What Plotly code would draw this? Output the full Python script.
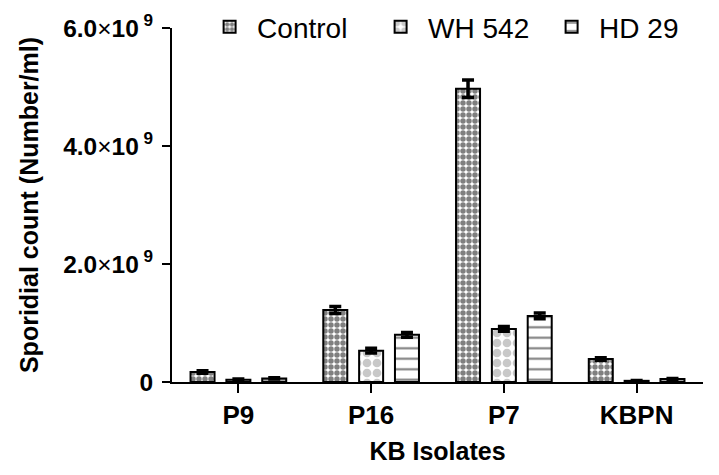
import plotly.graph_objects as go

isolates = ["P9", "P16", "P7", "KBPN"]
control = [0.17e9, 1.22e9, 4.97e9, 0.39e9]
control_err = [0.02e9, 0.06e9, 0.15e9, 0.02e9]
wh542 = [0.04e9, 0.53e9, 0.90e9, 0.02e9]
wh542_err = [0.01e9, 0.04e9, 0.04e9, 0.005e9]
hd29 = [0.06e9, 0.80e9, 1.12e9, 0.05e9]
hd29_err = [0.01e9, 0.04e9, 0.05e9, 0.01e9]

y_tickvals = [0, 2e9, 4e9, 6e9]
y_ticktext = ["0",
              "2.0<span style='font-weight:normal'>×</span>10<sup> 9</sup>",
              "4.0<span style='font-weight:normal'>×</span>10<sup> 9</sup>",
              "6.0<span style='font-weight:normal'>×</span>10<sup> 9</sup>"]

FONT = "Arial, Liberation Sans, sans-serif"

def err(vals):
    return dict(type="data", array=vals, visible=True, color="black",
                thickness=3.5, width=6)

fig = go.Figure()
fig.add_trace(go.Bar(
    name="Control", x=isolates, y=control, error_y=err(control_err),
    marker=dict(color="white", line=dict(color="black", width=2),
                pattern=dict(shape=".", fgcolor="black", bgcolor="white",
                             size=6, solidity=0.65, fillmode="overlay")),
))
fig.add_trace(go.Bar(
    name="WH 542", x=isolates, y=wh542, error_y=err(wh542_err),
    marker=dict(color="white", line=dict(color="black", width=2),
                pattern=dict(shape=".", fgcolor="#929292", bgcolor="white",
                             size=10, solidity=0.6, fillmode="overlay")),
))
fig.add_trace(go.Bar(
    name="HD 29", x=isolates, y=hd29, error_y=err(hd29_err),
    marker=dict(color="white", line=dict(color="black", width=2),
                pattern=dict(shape="-", fgcolor="black", bgcolor="white",
                             size=10.5, solidity=0.2, fillmode="overlay")),
))

fig.update_layout(
    template="none",
    width=711, height=467,
    margin=dict(l=164, r=16, t=20, b=93, autoexpand=False),
    paper_bgcolor="white", plot_bgcolor="white",
    barmode="group", bargap=0.19, bargroupgap=0.33,
    font=dict(family=FONT, color="black"),
    legend=dict(orientation="h", xref="container", yref="container",
                x=0.273, y=0.959, xanchor="left", yanchor="middle",
                font=dict(size=28, family=FONT), itemwidth=45,
                entrywidth=111, entrywidthmode="pixels",
                bgcolor="rgba(0,0,0,0)", traceorder="normal"),
    xaxis=dict(
        range=[-0.5, 3.5], showline=True, linecolor="black", linewidth=2,
        ticks="outside", ticklen=9, tickwidth=2, tickcolor="black",
        tickfont=dict(size=26, family=FONT, weight="bold"),
        title=dict(text="KB Isolates", font=dict(size=25, family=FONT, weight="bold"),
                   standoff=13),
        showgrid=False, zeroline=False, automargin=False,
    ),
    yaxis=dict(
        range=[0, 6e9], showline=True, linecolor="black", linewidth=2,
        tickvals=y_tickvals, ticktext=y_ticktext,
        ticks="outside", ticklen=8, tickwidth=2, tickcolor="black",
        tickfont=dict(size=24.5, family=FONT, weight="bold"),
        ticklabelstandoff=4,
        title=dict(text="Sporidial count (Number/ml)",
                   font=dict(size=25, family=FONT, weight="bold"), standoff=17),
        showgrid=False, zeroline=False, automargin=False,
    ),
)

fig.write_html("out.html")
